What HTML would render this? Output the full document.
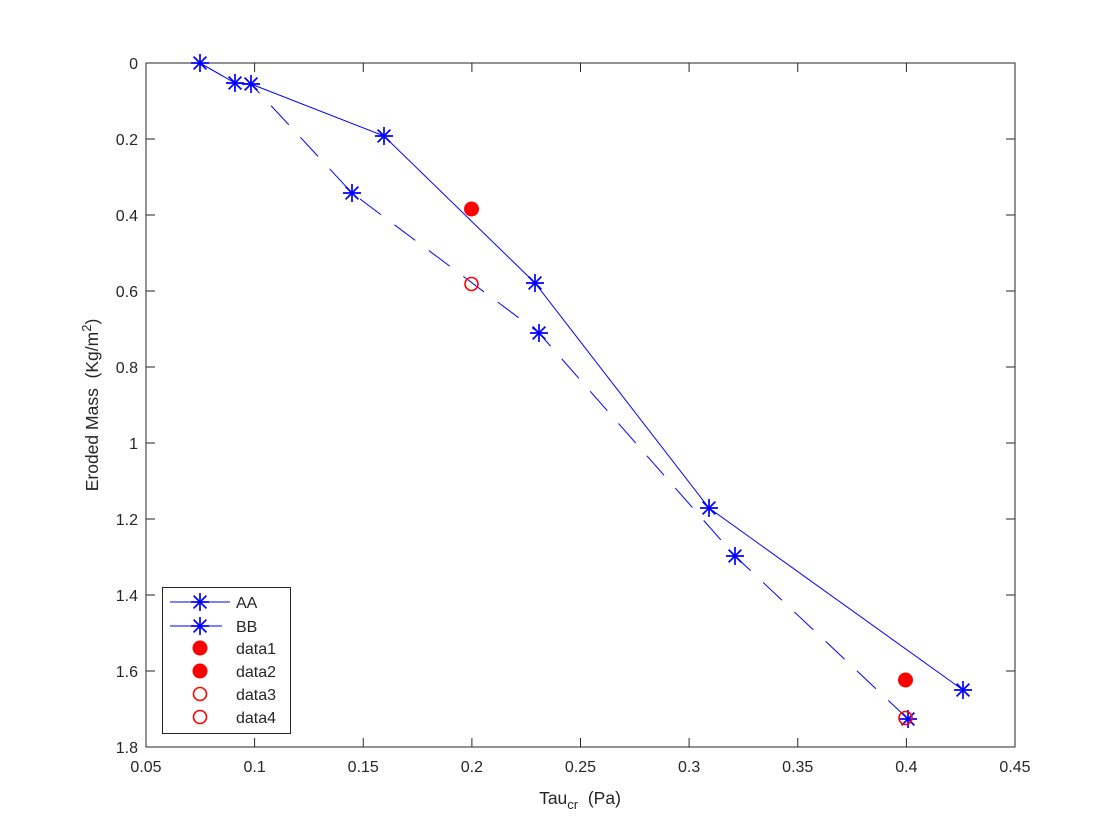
<!DOCTYPE html>
<html><head><meta charset="utf-8"><style>body{margin:0;background:#fff}svg{display:block}text{font-family:"Liberation Sans",sans-serif;fill:#262626}</style></head><body>
<svg width="1120" height="840" viewBox="0 0 1120 840" xmlns="http://www.w3.org/2000/svg">
<defs>
<g id="s" stroke="#0000ff" stroke-width="1.7" fill="none"><line x1="-9" y1="0" x2="9" y2="0"/><line x1="0" y1="-9" x2="0" y2="9"/><line x1="-6.4" y1="-6.4" x2="6.4" y2="6.4"/><line x1="-6.4" y1="6.4" x2="6.4" y2="-6.4"/></g>
</defs>
<rect x="146" y="63" width="869" height="684" fill="#fff" stroke="#262626" stroke-width="1"/>
<g stroke="#262626" stroke-width="1">
<line x1="254.6" y1="747" x2="254.6" y2="738"/><line x1="363.25" y1="747" x2="363.25" y2="738"/><line x1="471.9" y1="747" x2="471.9" y2="738"/><line x1="580.5" y1="747" x2="580.5" y2="738"/><line x1="689.1" y1="747" x2="689.1" y2="738"/><line x1="797.75" y1="747" x2="797.75" y2="738"/><line x1="906.4" y1="747" x2="906.4" y2="738"/>
<line x1="254.6" y1="63" x2="254.6" y2="72"/><line x1="363.25" y1="63" x2="363.25" y2="72"/><line x1="471.9" y1="63" x2="471.9" y2="72"/><line x1="580.5" y1="63" x2="580.5" y2="72"/><line x1="689.1" y1="63" x2="689.1" y2="72"/><line x1="797.75" y1="63" x2="797.75" y2="72"/><line x1="906.4" y1="63" x2="906.4" y2="72"/>
<line x1="146" y1="139" x2="155" y2="139"/><line x1="146" y1="215" x2="155" y2="215"/><line x1="146" y1="291" x2="155" y2="291"/><line x1="146" y1="367" x2="155" y2="367"/><line x1="146" y1="443" x2="155" y2="443"/><line x1="146" y1="519" x2="155" y2="519"/><line x1="146" y1="595" x2="155" y2="595"/><line x1="146" y1="671" x2="155" y2="671"/>
<line x1="1015" y1="139" x2="1006" y2="139"/><line x1="1015" y1="215" x2="1006" y2="215"/><line x1="1015" y1="291" x2="1006" y2="291"/><line x1="1015" y1="367" x2="1006" y2="367"/><line x1="1015" y1="443" x2="1006" y2="443"/><line x1="1015" y1="519" x2="1006" y2="519"/><line x1="1015" y1="595" x2="1006" y2="595"/><line x1="1015" y1="671" x2="1006" y2="671"/>
</g>
<g font-size="16" text-anchor="middle">
<text x="146" y="772">0.05</text><text x="254.6" y="772">0.1</text><text x="363.25" y="772">0.15</text><text x="471.9" y="772">0.2</text><text x="580.5" y="772">0.25</text><text x="689.1" y="772">0.3</text><text x="797.75" y="772">0.35</text><text x="906.4" y="772">0.4</text><text x="1015" y="772">0.45</text>
</g>
<g font-size="16" text-anchor="end">
<text x="138" y="69">0</text><text x="138" y="145">0.2</text><text x="138" y="221">0.4</text><text x="138" y="297">0.6</text><text x="138" y="373">0.8</text><text x="138" y="449">1</text><text x="138" y="525">1.2</text><text x="138" y="601">1.4</text><text x="138" y="677">1.6</text><text x="138" y="753">1.8</text>
</g>
<text x="580" y="804" font-size="17.5" text-anchor="middle" xml:space="preserve">Tau<tspan font-size="13" dy="5">cr</tspan><tspan dy="-5">  (Pa)</tspan></text>
<text transform="translate(98,405) rotate(-90)" font-size="17.5" text-anchor="middle" xml:space="preserve">Eroded Mass  (Kg/m<tspan font-size="13" dy="-7">2</tspan><tspan dy="7">)</tspan></text>
<polyline points="200,63 235,83 251,84 384,136 535,283 709,508 963,690" fill="none" stroke="#0000ff" stroke-width="1"/>
<polyline points="200,63 235,83 251,84 352,193 539,333 735,556 908,719" fill="none" stroke="#0000ff" stroke-width="1" stroke-dasharray="26,17"/>
<use href="#s" x="200" y="63"/><use href="#s" x="235" y="83"/><use href="#s" x="251" y="84"/><use href="#s" x="384" y="136"/><use href="#s" x="535" y="283"/><use href="#s" x="709" y="508"/><use href="#s" x="963" y="690"/>
<use href="#s" x="352" y="193"/><use href="#s" x="539" y="333"/><use href="#s" x="735" y="556"/><use href="#s" x="908" y="719"/>
<circle cx="471.5" cy="209" r="7.5" fill="#ff0000"/><circle cx="905.5" cy="680" r="7.5" fill="#ff0000"/>
<circle cx="471.5" cy="284" r="6.5" fill="none" stroke="#ff0000" stroke-width="1.6"/><circle cx="905.5" cy="718" r="6.5" fill="none" stroke="#ff0000" stroke-width="1.6"/>
<rect x="162.5" y="587.5" width="128" height="146" fill="#fff" stroke="#262626" stroke-width="1"/>
<line x1="170" y1="602" x2="230" y2="602" stroke="#0000ff"/><use href="#s" x="200" y="602"/>
<line x1="170" y1="626" x2="222" y2="626" stroke="#0000ff"/><use href="#s" x="200" y="626"/>
<circle cx="200" cy="648" r="7.5" fill="#ff0000"/><circle cx="200" cy="671" r="7.5" fill="#ff0000"/>
<circle cx="200" cy="694" r="6.5" fill="none" stroke="#ff0000" stroke-width="1.6"/><circle cx="200" cy="717" r="6.5" fill="none" stroke="#ff0000" stroke-width="1.6"/>
<g font-size="16"><text x="236" y="608">AA</text><text x="236" y="632">BB</text><text x="236" y="654">data1</text><text x="236" y="677">data2</text><text x="236" y="700">data3</text><text x="236" y="723">data4</text></g>
</svg>
</body></html>
